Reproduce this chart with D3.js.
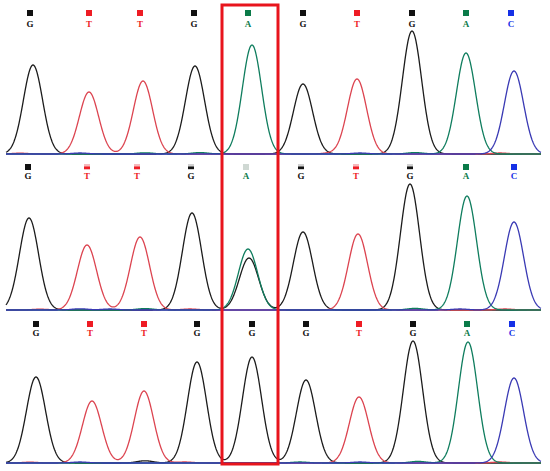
<!DOCTYPE html>
<html>
<head>
<meta charset="utf-8">
<script src="https://cdn.jsdelivr.net/npm/d3@7"></script>
<style>
  html, body { margin: 0; padding: 0; background: #fff; }
  svg { display: block; }
</style>
</head>
<body>
<svg id="chart" width="550" height="471"></svg>
<script>
// ---------------- DATA ----------------
const channels = ["G", "T", "A", "C"];

// base calls shown above each trace
const calls1 = ["G","T","T","G","A","G","T","G","A","C"];
const calls2 = ["G","T","T","G","A","G","T","G","A","C"];
const calls3 = ["G","T","T","G","G","G","T","G","A","C"];

// scan position of each base-call label
const callPos1 = [30, 89, 140, 194, 248, 303, 357, 412, 466, 511];
const callPos2 = [28, 87, 137, 191, 246, 301, 356, 410, 466, 514];
const callPos3 = [36, 90, 144, 197, 252, 306, 359, 413, 467, 512];

// call quality marker style: "full" square or faded "dash"
const callMark1 = ["full","full","full","full","full","full","full","full","full","full"];
const callMark2 = ["full","dash","dash","dash","faint","dash","dash","dash","full","full"];
const callMark3 = ["full","full","full","full","full","full","full","full","full","full"];

// peaks: channel, scan position, signal intensity
const peakBase1 = ["G","T","T","G","A","G","T","G","A","C"];
const peakPos1  = [33, 89, 143, 195, 252, 303, 357, 412, 466, 514];
const peakSig1  = [890, 620, 730, 880, 1090, 700, 750, 1230, 1010, 830];

const peakBase2 = ["G","T","T","G","A","G","G","T","G","A","C"];
const peakPos2  = [29, 87, 140, 192, 248, 249, 303, 358, 410, 467, 514];
const peakSig2  = [920, 650, 730, 970, 610, 520, 780, 760, 1260, 1140, 880];

const peakBase3 = ["G","T","T","G","G","G","T","G","A","C"];
const peakPos3  = [36, 92, 144, 197, 252, 306, 359, 413, 468, 514];
const peakSig3  = [860, 620, 720, 1010, 1060, 830, 660, 1220, 1210, 850];

// low-level background signal bumps
const noiseBase1 = ["T","C","A","A","T","C","A","T"];
const noisePos1  = [20, 80, 145, 200, 330, 360, 415, 500];
const noiseSig1  = [8, 10, 12, 14, 8, 10, 14, 10];
const noiseBase2 = ["T","C","C","A","T","A","C","T"];
const noisePos2  = [40, 80, 110, 145, 190, 415, 460, 505];
const noiseSig2  = [8, 12, 10, 14, 10, 16, 10, 10];
const noiseBase3 = ["T","C","G","T","A","C","A","T"];
const noisePos3  = [30, 80, 145, 185, 300, 360, 418, 500];
const noiseSig3  = [8, 10, 22, 10, 10, 10, 16, 10];

// ---------------- STYLE ----------------
const traceColor = { G: "#1c1c1c", T: "#dc4450", A: "#0f7d5e", C: "#3a3ab4" };
const labelColor = { G: "#111111", T: "#ee1c24", A: "#0a7a48", C: "#1530e6" };
const fadedColor = { G: "#d0d0d0", T: "#f6b9bc", A: "#cfd8d3", C: "#c5ccf5" };

const panels = [
  { calls: calls1, callPos: callPos1, marks: callMark1, base: peakBase1, pos: peakPos1, sig: peakSig1,
    nb: noiseBase1, np: noisePos1, ns: noiseSig1, markY: 13, textY: 27, baseline: 154 },
  { calls: calls2, callPos: callPos2, marks: callMark2, base: peakBase2, pos: peakPos2, sig: peakSig2,
    nb: noiseBase2, np: noisePos2, ns: noiseSig2, markY: 167, textY: 179, baseline: 310 },
  { calls: calls3, callPos: callPos3, marks: callMark3, base: peakBase3, pos: peakPos3, sig: peakSig3,
    nb: noiseBase3, np: noisePos3, ns: noiseSig3, markY: 324, textY: 336, baseline: 463 }
];

const svg = d3.select("#chart");
const x = d3.scaleLinear().domain([0, 550]).range([0, 550]);
const scanStart = 6, scanEnd = 541;
const sigma = 9.6;

panels.forEach(p => {
  const y = d3.scaleLinear().domain([0, 1000]).range([p.baseline, p.baseline - 100]);
  const g = svg.append("g");

  // signal per channel = sum of gaussian peak shapes
  const samples = d3.range(scanStart, scanEnd + 0.01, 0.5);
  const signal = (ch, s) => {
    let v = 0;
    p.base.forEach((b, i) => {
      if (b === ch) v += p.sig[i] * Math.exp(-0.5 * Math.pow((s - p.pos[i]) / sigma, 2));
    });
    p.nb.forEach((b, i) => {
      if (b === ch) v += p.ns[i] * Math.exp(-0.5 * Math.pow((s - p.np[i]) / 8, 2));
    });
    return v;
  };
  const line = d3.line().x(d => x(d[0])).y(d => y(d[1])).curve(d3.curveLinear);

  ["G", "T", "A", "C"].forEach(ch => {
    const pts = samples.map(s => [s, signal(ch, s)]);
    g.append("path")
      .attr("d", line(pts))
      .attr("fill", "none")
      .attr("stroke", traceColor[ch])
      .attr("stroke-width", 1.3)
      .attr("stroke-linejoin", "round");
  });

  // base call markers and letters
  p.calls.forEach((c, i) => {
    const cx = x(p.callPos[i]);
    if (p.marks[i] === "full") {
      g.append("rect").attr("x", cx - 3).attr("y", p.markY - 3).attr("width", 6).attr("height", 6)
        .attr("fill", labelColor[c]);
    } else {
      g.append("rect").attr("x", cx - 3).attr("y", p.markY - 3).attr("width", 6).attr("height", 6)
        .attr("fill", fadedColor[c]);
      if (p.marks[i] === "dash") {
        g.append("rect").attr("x", cx - 3).attr("y", p.markY - 0.5).attr("width", 6).attr("height", 2.5)
          .attr("fill", labelColor[c]);
      }
    }
    g.append("text")
      .attr("x", cx).attr("y", p.textY)
      .attr("text-anchor", "middle")
      .attr("font-family", "Liberation Serif, DejaVu Serif, serif")
      .attr("font-weight", "bold")
      .attr("font-size", 9)
      .attr("fill", labelColor[c])
      .text(c);
  });
});

// highlight box around the variant position
svg.append("rect")
  .attr("x", x(222)).attr("y", 5)
  .attr("width", x(278) - x(222)).attr("height", 459)
  .attr("fill", "none")
  .attr("stroke", "#e8141c")
  .attr("stroke-width", 3);
</script>
</body>
</html>
